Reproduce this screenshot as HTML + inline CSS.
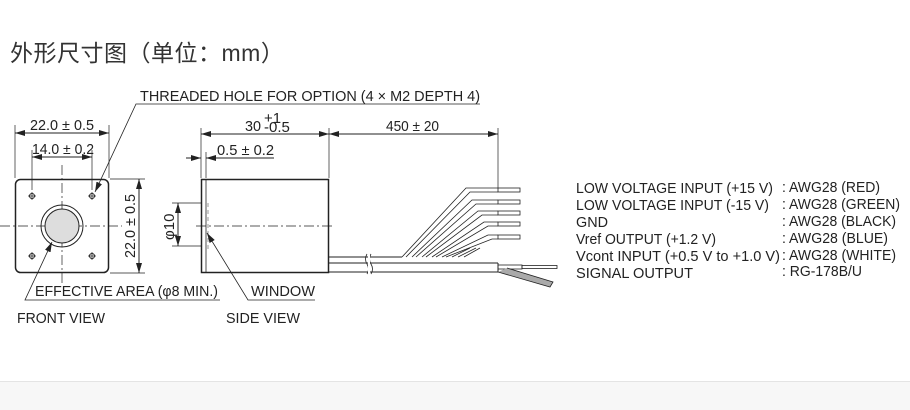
<!DOCTYPE html>
<html><head><meta charset="utf-8"><style>
html,body{margin:0;padding:0;background:#fff;}
body{width:910px;height:409px;position:relative;overflow:hidden;font-family:"Liberation Sans",Arial,sans-serif;}
.title{position:absolute;left:10px;top:34px;font-size:23px;letter-spacing:0.5px;color:#333;font-family:"Liberation Sans","Noto Sans CJK SC",sans-serif;}
.foot{position:absolute;left:0;top:381px;width:910px;height:28px;background:#f7f7f7;border-top:1px solid #e4e4e4;}
svg{position:absolute;left:0;top:0;}
text{font-family:"Liberation Sans",Arial,sans-serif;fill:#222;font-size:15px;}
</style></head><body>
<div class="title">外形尺寸图（单位：mm）</div>
<svg width="910" height="380" viewBox="0 0 910 380">
<defs>
<marker id="a" viewBox="0 0 10 6" refX="10" refY="3" markerWidth="10" markerHeight="6" orient="auto-start-reverse" markerUnits="userSpaceOnUse"><path d="M0,0L10,3L0,6z" fill="#222"/></marker>
</defs>
<g stroke="#222" stroke-width="1" fill="none">
<rect x="15.5" y="179.5" width="93" height="93" rx="5" stroke-width="1.5"/>
<line x1="0" y1="226" x2="122" y2="226" stroke-dasharray="10,3,2,3" stroke-width="0.7"/>
<line x1="62" y1="165" x2="62" y2="285" stroke-dasharray="10,3,2,3" stroke-width="0.7"/>
<circle cx="62" cy="226" r="21"/>
<circle cx="62" cy="226" r="17" fill="#ddd"/>
<circle cx="32" cy="196" r="2.5"/><circle cx="92" cy="196" r="2.5"/>
<circle cx="32" cy="256" r="2.5"/><circle cx="92" cy="256" r="2.5"/>
<path d="M28,196h8M32,192v8M88,196h8M92,192v8M28,256h8M32,252v8M88,256h8M92,252v8" stroke-width="0.7"/>
<path d="M15,125V178M109,125V178M32,150V190M92,150V190" stroke-width="0.7"/>
<line x1="15" y1="133" x2="109" y2="133" marker-start="url(#a)" marker-end="url(#a)"/>
<line x1="32" y1="157" x2="92" y2="157" marker-start="url(#a)" marker-end="url(#a)"/>
<path d="M110,179H145M110,273H145" stroke-width="0.7"/>
<line x1="139" y1="179" x2="139" y2="273" marker-start="url(#a)" marker-end="url(#a)"/>
<polyline points="480,104 136,104 95,192" stroke-width="0.8" marker-end="url(#a)"/>
<polyline points="220,300 25,300 52,242" stroke-width="0.8" marker-end="url(#a)"/>
<rect x="201.5" y="179.5" width="127" height="93" stroke-width="1.5"/>
<line x1="206" y1="180" x2="206" y2="272" stroke-width="0.8"/>
<line x1="208" y1="203" x2="208" y2="250" stroke="#999" stroke-dasharray="4,3"/>
<line x1="196" y1="226" x2="335" y2="226" stroke-dasharray="10,3,2,3" stroke-width="0.7"/>
<path d="M201,128V178M329,128V178M498,128V188M206,152V178" stroke-width="0.7"/>
<line x1="201" y1="134" x2="329" y2="134" marker-start="url(#a)" marker-end="url(#a)"/>
<line x1="329" y1="134" x2="498" y2="134" marker-start="url(#a)" marker-end="url(#a)"/>
<line x1="186" y1="158" x2="201" y2="158" marker-end="url(#a)"/>
<line x1="274" y1="158" x2="206" y2="158" marker-end="url(#a)"/>
<path d="M172,203H201M172,246H201" stroke-width="0.7"/>
<line x1="178" y1="203" x2="178" y2="246" marker-start="url(#a)" marker-end="url(#a)"/>
<polyline points="315,300 248,300 207,233" stroke-width="0.8" marker-end="url(#a)"/>
<path d="M329,257H402M329,263H498M329,272H498" stroke-width="1"/>
<path d="M367,254q-3,5 0,10q3,5 0,10M371,254q-3,5 0,10q3,5 0,10" stroke-width="0.8"/>
<rect x="368" y="255" width="2" height="19" fill="#fff" stroke="none"/>
<g stroke-width="0.8">
<path d="M402,257L466,188H498M406,257L470,192H498"/>
<path d="M412,257L472,200H498M416,257L476,204H498"/>
<path d="M422,257L478,211H498M426,257L482,215H498"/>
<path d="M432,257L484,222H498M436,257L488,226H498"/>
<path d="M442,257L488,235H498M446,257L492,239H498"/>
<path d="M452,257L470,248M458,257L476,248M464,257L480,248"/>
</g>
<g stroke-width="0.8">
<rect x="498" y="188" width="22" height="4"/>
<rect x="498" y="200" width="22" height="4"/>
<rect x="498" y="211" width="22" height="4"/>
<rect x="498" y="222" width="22" height="4"/>
<rect x="498" y="235" width="22" height="4"/>
</g>
<path d="M498,263V272" stroke-width="1"/>
<rect x="498" y="265" width="24" height="4" stroke-width="0.8"/>
<rect x="522" y="265.5" width="35" height="3" stroke-width="0.8"/>
<path d="M498,272L550,287L553,282L507,268" fill="#aaa" stroke-width="0.8"/>
</g>
<g>
<text x="140" y="101" textLength="340" lengthAdjust="spacingAndGlyphs">THREADED HOLE FOR OPTION (4 × M2 DEPTH 4)</text>
<text x="30" y="130" textLength="64" lengthAdjust="spacingAndGlyphs">22.0 ± 0.5</text>
<text x="32" y="154" textLength="62" lengthAdjust="spacingAndGlyphs">14.0 ± 0.2</text>
<text transform="translate(135,258) rotate(-90)" textLength="64" lengthAdjust="spacingAndGlyphs">22.0 ± 0.5</text>
<text x="35" y="296" textLength="183" lengthAdjust="spacingAndGlyphs">EFFECTIVE AREA (φ8 MIN.)</text>
<text x="17" y="323" textLength="88" lengthAdjust="spacingAndGlyphs">FRONT VIEW</text>
<text x="245" y="131" textLength="16" lengthAdjust="spacingAndGlyphs">30</text>
<text x="264" y="123" font-size="8">+1</text>
<text x="264" y="132" font-size="8">-0.5</text>
<text x="386" y="131" textLength="53" lengthAdjust="spacingAndGlyphs">450 ± 20</text>
<text x="217" y="155" textLength="57" lengthAdjust="spacingAndGlyphs">0.5 ± 0.2</text>
<text transform="translate(174,240) rotate(-90)">φ10</text>
<text x="251" y="296" textLength="64" lengthAdjust="spacingAndGlyphs">WINDOW</text>
<text x="226" y="323" textLength="74" lengthAdjust="spacingAndGlyphs">SIDE VIEW</text>
<text x="576" y="193" textLength="197" lengthAdjust="spacingAndGlyphs">LOW VOLTAGE INPUT (+15 V)</text>
<text x="576" y="210" textLength="193" lengthAdjust="spacingAndGlyphs">LOW VOLTAGE INPUT (-15 V)</text>
<text x="576" y="227" textLength="32" lengthAdjust="spacingAndGlyphs">GND</text>
<text x="576" y="244" textLength="140" lengthAdjust="spacingAndGlyphs">Vref OUTPUT (+1.2 V)</text>
<text x="576" y="261" textLength="204" lengthAdjust="spacingAndGlyphs">Vcont INPUT (+0.5 V to +1.0 V)</text>
<text x="576" y="278" textLength="117" lengthAdjust="spacingAndGlyphs">SIGNAL OUTPUT</text>
<text x="782" y="192" textLength="98" lengthAdjust="spacingAndGlyphs">: AWG28 (RED)</text>
<text x="782" y="209" textLength="118" lengthAdjust="spacingAndGlyphs">: AWG28 (GREEN)</text>
<text x="782" y="226" textLength="114" lengthAdjust="spacingAndGlyphs">: AWG28 (BLACK)</text>
<text x="782" y="243" textLength="106" lengthAdjust="spacingAndGlyphs">: AWG28 (BLUE)</text>
<text x="782" y="260" textLength="114" lengthAdjust="spacingAndGlyphs">: AWG28 (WHITE)</text>
<text x="782" y="276" textLength="80" lengthAdjust="spacingAndGlyphs">: RG-178B/U</text>
</g>
</svg>
<div class="foot"></div>
</body></html>
